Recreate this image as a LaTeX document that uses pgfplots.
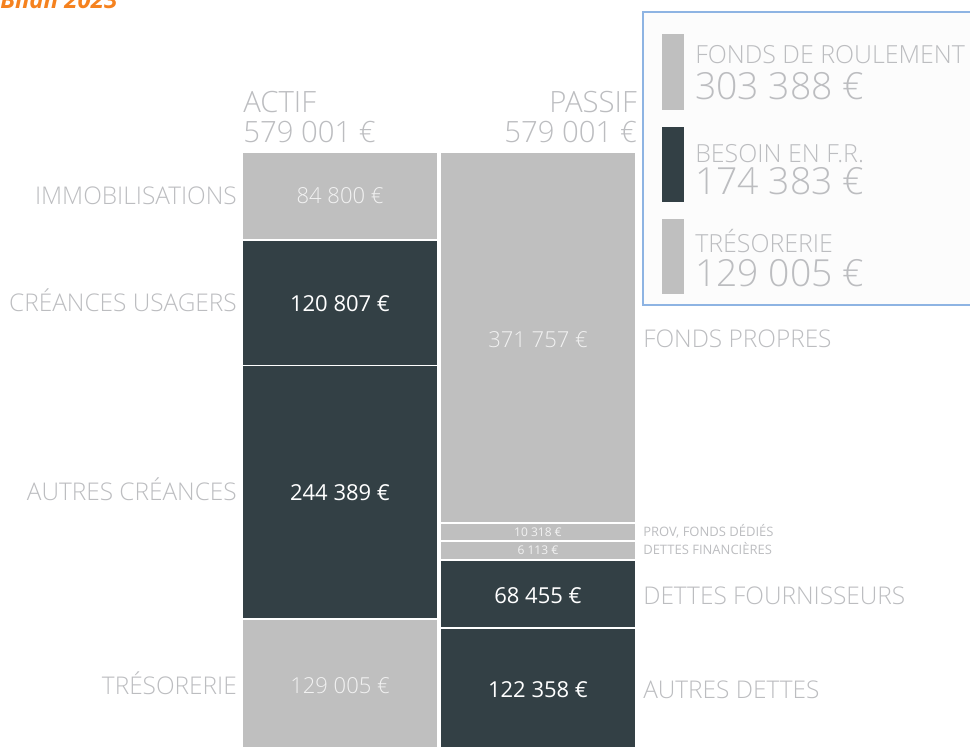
\documentclass[border=0pt]{standalone}
\usepackage{pgfplots}
\pgfplotsset{compat=1.18}
\usepackage{fontspec}
\setmainfont{Open Sans}
\newfontfamily\lightfont{Open Sans Light}
\definecolor{lgray}{HTML}{BFBFBF}
\definecolor{dark}{HTML}{334045}
\definecolor{txt}{HTML}{BCBDC0}
\definecolor{orangeT}{HTML}{F5821F}
\definecolor{lblue}{HTML}{8EB4E3}
\newcommand\fs[1]{\fontsize{#1}{#1}\selectfont}
\pgfplotsset{
  bilan/.style={
    at={(0pt,-5.25pt)}, anchor=origin,
    scale only axis, width=727.5pt, height=450.75pt,
    xmin=0, xmax=970, ymin=0, ymax=579001,
    hide axis, enlargelimits=false, clip=false,
    ybar stacked, bar width=196,
    every axis plot/.append style={draw=white, line width=0.9pt},
  },
}
\begin{document}
\begin{tikzpicture}
\useasboundingbox (0,0) rectangle (727.5pt,559.5pt);
\clip (0,0) rectangle (727.5pt,559.5pt);
% ACTIF (bottom to top)
\begin{axis}[bilan]
\addplot[fill=lgray] coordinates {(340,129005)}; % tresorerie
\addplot[fill=dark]  coordinates {(340,244389)}; % autres creances
\addplot[fill=dark]  coordinates {(340,120807)}; % creances usagers
\addplot[fill=lgray] coordinates {(340,84800)};  % immobilisations
\end{axis}
% PASSIF (bottom to top; segment heights as drawn in the reference)
\begin{axis}[bilan]
\addplot[fill=dark]  coordinates {(538,120425)}; % autres dettes
\addplot[fill=dark]  coordinates {(538,65511)};  % dettes fournisseurs
\addplot[fill=lgray] coordinates {(538,18305)};  % dettes financieres
\addplot[fill=lgray] coordinates {(538,17341)};  % prov, fonds dedies
\addplot[fill=lgray] coordinates {(538,357419)}; % fonds propres
\end{axis}
\begin{scope}[x=0.75pt, y=-0.75pt, yshift=559.5pt, every node/.style={inner sep=0pt, text=txt}]
% title
\node[anchor=base west, text=orangeT, font=\fs{18pt}\bfseries\itshape] at (0,9) {Bilan 2023};
% headers
\node[anchor=base west, font=\lightfont\fs{22pt}] at (243,113) {ACTIF};
\node[anchor=base west, font=\lightfont\fs{22pt}] at (243,143) {579 001 €};
\node[anchor=base east, font=\lightfont\fs{22pt}] at (637,113) {PASSIF};
\node[anchor=base east, font=\lightfont\fs{22pt}] at (637,143) {579 001 €};
% values in bars
\begin{scope}[every node/.append style={anchor=center, font=\fs{16.5pt}}]
\node[text=white!95!black, font=\lightfont\fs{16.5pt}] at (340,196) {84 800 €};
\node[text=white] at (340,304) {120 807 €};
\node[text=white] at (340,493) {244 389 €};
\node[text=white!95!black, font=\lightfont\fs{16.5pt}] at (340,686) {129 005 €};
\node[text=white!95!black, font=\lightfont\fs{16.5pt}] at (538,340) {371 757 €};
\node[text=white!95!black, font=\fs{9pt}] at (538,532) {10 318 €};
\node[text=white!95!black, font=\fs{9pt}] at (538,550) {6 113 €};
\node[text=white] at (538,596) {68 455 €};
\node[text=white] at (538,690) {122 358 €};
\end{scope}
% left labels
\begin{scope}[every node/.append style={anchor=base east, font=\lightfont\fs{18.3pt}}]
\node at (237,205) {IMMOBILISATIONS};
\node at (237,312) {CRÉANCES USAGERS};
\node at (237,501) {AUTRES CRÉANCES};
\node at (237,694) {TRÉSORERIE};
\end{scope}
% right labels
\begin{scope}[every node/.append style={anchor=base west, font=\lightfont\fs{18.3pt}}]
\node at (643,348) {FONDS PROPRES};
\node at (643,604) {DETTES FOURNISSEURS};
\node at (643,698) {AUTRES DETTES};
\node[font=\fs{9.75pt}] at (643,537) {PROV, FONDS DÉDIÉS};
\node[font=\fs{9.75pt}] at (643,555) {DETTES FINANCIÈRES};
\end{scope}
% legend box
\draw[lblue, line width=1pt, fill=white!99!black] (643,12) rectangle (980,305);
\fill[lgray] (662,34) rectangle (684,110);
\fill[dark] (662,127) rectangle (684,202);
\fill[lgray] (662,219) rectangle (684,294);
\begin{scope}[every node/.append style={anchor=base west}]
\node[font=\lightfont\fs{18.7pt}] at (695,64) {FONDS DE ROULEMENT};
\node[font=\lightfont\fs{28pt}] at (695,100) {303 388 €};
\node[font=\lightfont\fs{18.7pt}] at (695,163) {BESOIN EN F.R.};
\node[font=\lightfont\fs{28pt}] at (695,195) {174 383 €};
\node[font=\lightfont\fs{18.7pt}] at (695,253) {TRÉSORERIE};
\node[font=\lightfont\fs{28pt}] at (695,287) {129 005 €};
\end{scope}
\end{scope}
\end{tikzpicture}
\end{document}
